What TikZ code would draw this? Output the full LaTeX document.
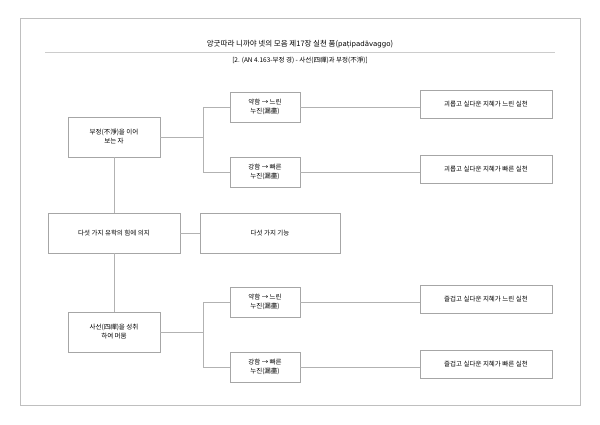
\documentclass[tikz,border=0pt]{standalone}
\usepackage{fontspec}
\setmainfont{Noto Sans CJK KR}
\newfontfamily\latfont{DejaVu Sans}
\begin{document}
\begin{tikzpicture}[x=1pt,y=-1pt,
  bx/.style={draw=black!35,line width=0.6pt,fill=white,align=center,font=\fontsize{6.5}{9}\selectfont,inner sep=0pt},
  ln/.style={draw=black!30,line width=0.5pt}]
\useasboundingbox (0,0) rectangle (600,425);
\draw[black!25,line width=0.6pt] (20,18) rectangle (580,405);
\node[font=\fontsize{7.5}{9}\selectfont] (t) at (300,44) {앙굿따라 니까야 넷의 모음 제17장 실천 품({\latfont\fontsize{7}{9}\selectfont paṭipadāvaggo})};
\draw[black!20,line width=0.8pt] (45,52) -- (555,52);
\node[font=\fontsize{6.5}{8}\selectfont] (s) at (300,60) {[2. (AN 4.163-부정 경) - 사선(四禪)과 부정(不淨)]};
% left column
\node[bx,minimum width=92,minimum height=40] (a) at (114,137) {부정(不淨)을 이어\\보는 자};
\node[bx,minimum width=132,minimum height=40] (m) at (114,233) {다섯 가지 유학의 힘에 의지};
\node[bx,minimum width=140,minimum height=40] (k) at (270,233) {다섯 가지 기능};
\node[bx,minimum width=92,minimum height=40] (b) at (114,332) {사선(四禪)을 성취\\하여 머뭄};
% middle
\node[bx,minimum width=70,minimum height=30] (a1) at (265,107) {약함 → 느린\\누진(漏盡)};
\node[bx,minimum width=70,minimum height=30] (a2) at (265,172) {강함 → 빠른\\누진(漏盡)};
\node[bx,minimum width=70,minimum height=30] (b1) at (265,302) {약함 → 느린\\누진(漏盡)};
\node[bx,minimum width=70,minimum height=30] (b2) at (265,367) {강함 → 빠른\\누진(漏盡)};
% right
\node[bx,minimum width=132,minimum height=28] (r1) at (486,104) {괴롭고 실다운 지혜가 느린 실천};
\node[bx,minimum width=132,minimum height=28] (r2) at (486,169) {괴롭고 실다운 지혜가 빠른 실천};
\node[bx,minimum width=132,minimum height=28] (r3) at (486,299) {즐겁고 실다운 지혜가 느린 실천};
\node[bx,minimum width=132,minimum height=28] (r4) at (486,364) {즐겁고 실다운 지혜가 빠른 실천};
% connectors
\draw[ln] (a.south) -- (m.north);
\draw[ln] (m.south) -- (b.north);
\draw[ln] (m.east) -- (k.west);
\draw[ln] (a.east) -- (203,137) (203,107) -- (a1.west);
\draw[ln] (203,107) -- (203,172) -- (a2.west);
\draw[ln] (b.east) -- (203,332) (203,302) -- (b1.west);
\draw[ln] (203,302) -- (203,367) -- (b2.west);
\draw[ln] (a1.east) -- (r1.west |- a1.east);
\draw[ln] (a2.east) -- (r2.west |- a2.east);
\draw[ln] (b1.east) -- (r3.west |- b1.east);
\draw[ln] (b2.east) -- (r4.west |- b2.east);
\end{tikzpicture}
\end{document}
